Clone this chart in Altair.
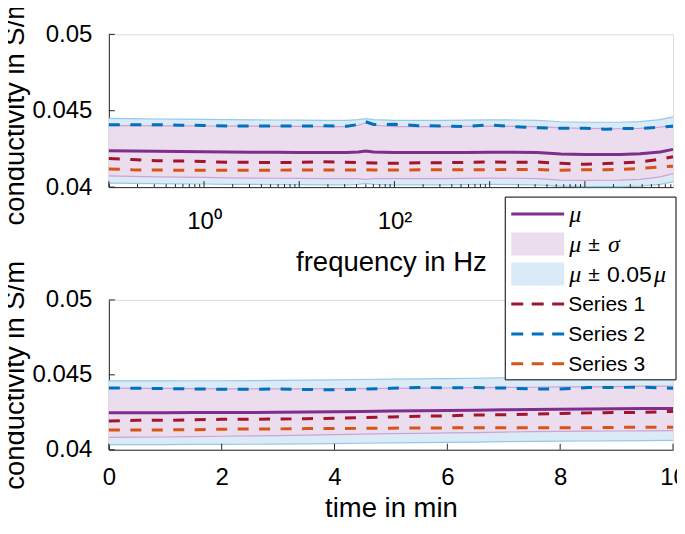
import altair as alt
import pandas as pd

# ---------------- data ----------------
FREQ = [0.1, 0.175, 0.316, 0.562, 1, 1.78, 3.16, 5.62, 10, 17.8, 31.6, 41.7, 50, 60.3,
        100, 178, 316, 562, 1000, 1780, 3160, 5620, 10000, 16600, 23400, 38000, 61700, 84300]
F_S2 = [0.04409, 0.04409, 0.04409, 0.04405, 0.04404, 0.04400, 0.04400, 0.04401, 0.04400, 0.04401,
        0.04398, 0.04410, 0.04428, 0.04410, 0.04411, 0.04402, 0.04400, 0.04396, 0.04408, 0.04395,
        0.04389, 0.04385, 0.04386, 0.04378, 0.04383, 0.04383, 0.04393, 0.04398]
F_MU = [0.04238, 0.04236, 0.04234, 0.04233, 0.04232, 0.04230, 0.04229, 0.04228, 0.04227, 0.04226,
        0.04226, 0.04230, 0.04236, 0.04230, 0.04226, 0.04226, 0.04226, 0.04227, 0.04229, 0.04228,
        0.04226, 0.04217, 0.04214, 0.04214, 0.04214, 0.04218, 0.04230, 0.04247]
F_S1 = [0.04188, 0.04180, 0.04173, 0.04171, 0.04168, 0.04162, 0.04162, 0.04161, 0.04162, 0.04166,
        0.04163, 0.04160, 0.04160, 0.04158, 0.04156, 0.04160, 0.04160, 0.04162, 0.04165, 0.04162,
        0.04164, 0.04156, 0.04149, 0.04154, 0.04158, 0.04165, 0.04182, 0.04199]
F_S3 = [0.04119, 0.04113, 0.04112, 0.04110, 0.04110, 0.04111, 0.04111, 0.04111, 0.04112, 0.04112,
        0.04112, 0.04112, 0.04113, 0.04112, 0.04112, 0.04113, 0.04114, 0.04113, 0.04114, 0.04116,
        0.04115, 0.04110, 0.04114, 0.04113, 0.04116, 0.04122, 0.04132, 0.04137]
F_SIG = [0.00165, 0.00166, 0.00167, 0.00168, 0.00168, 0.00169, 0.00170, 0.00170, 0.00170, 0.00170,
         0.00170, 0.00175, 0.00185, 0.00175, 0.00170, 0.00170, 0.00170, 0.00170, 0.00170, 0.00170,
         0.00170, 0.00171, 0.00170, 0.00169, 0.00168, 0.00167, 0.00163, 0.00159]

TIME = [0, 0.5, 1, 1.5, 2, 2.5, 3, 3.5, 4, 4.5, 5, 5.5, 6, 6.5, 7, 7.5, 8, 8.5, 9, 9.5, 10]
T_S2 = [0.04412, 0.04411, 0.04408, 0.04406, 0.04404, 0.04404, 0.04405, 0.04402, 0.04400, 0.04405,
        0.04410, 0.04415, 0.04414, 0.04415, 0.04412, 0.04406, 0.04406, 0.04415, 0.04416, 0.04417, 0.04410]
T_MU = [0.04247, 0.04247, 0.04247, 0.04248, 0.04248, 0.04249, 0.04250, 0.04252, 0.04254, 0.04256,
        0.04258, 0.04260, 0.04262, 0.04264, 0.04267, 0.04269, 0.04271, 0.04272, 0.04273, 0.04275, 0.04276]
T_S1 = [0.04192, 0.04196, 0.04196, 0.04200, 0.04203, 0.04203, 0.04205, 0.04207, 0.04210, 0.04215,
        0.04219, 0.04224, 0.04226, 0.04232, 0.04233, 0.04237, 0.04242, 0.04246, 0.04248, 0.04250, 0.04256]
T_S3 = [0.04132, 0.04132, 0.04132, 0.04134, 0.04137, 0.04138, 0.04139, 0.04141, 0.04141, 0.04143,
        0.04144, 0.04145, 0.04146, 0.04146, 0.04146, 0.04146, 0.04146, 0.04147, 0.04149, 0.04150, 0.04150]
T_SIG = [0.00164, 0.00163, 0.00162, 0.00160, 0.00158, 0.00157, 0.00156, 0.00154, 0.00153, 0.00152,
         0.00151, 0.00151, 0.00150, 0.00150, 0.00149, 0.00148, 0.00148, 0.00148, 0.00148, 0.00149, 0.00149]

Y_TICKS = [0.04, 0.045, 0.05]
F_MAJOR = [0.1, 1, 10, 100, 1000, 10000]
F_MINOR = [m * d for d in [0.1, 1, 10, 100, 1000, 10000] for m in range(2, 10) if m * d <= 84300]
F_LABELED = [1, 100]
T_TICKS = [0, 2, 4, 6, 8, 10]

SERIES_NAMES = ["Series 1", "Series 2", "Series 3"]
SERIES_COLORS = ["#A2142F", "#0072BD", "#D95319"]
MU_COLOR = "#7E2F8E"
PINK_FILL = "#EBDDED"
PINK_EDGE = "#CDA3D5"
BLUE_FILL = "#DAEAF6"
BLUE_EDGE = "#97C8EA"

MU = "\u03bc"
SIGMA = "\u03c3"
PM = "\u00b1"
# legend text pieces: (text, italic)
LEG_TEXT = [
    [(MU, True)],
    [(MU, True), (PM, False), (SIGMA, True)],
    [(MU, True), (PM, False), ("0.05", False), (MU, True)],
    [("Series 1", False)],
    [("Series 2", False)],
    [("Series 3", False)],
]

FONT = "Liberation Sans"
MATH_FONT = "Liberation Serif"
AX = "#262626"
W = 565
H_TOP = 153
H_BOT = 150
GAP = 113
DASH = [11, 10.5]


def make_df(x, mu, sig, s1, s2, s3):
    return pd.DataFrame({"x": x, "mu": mu, "sig": sig,
                         "Series 1": s1, "Series 2": s2, "Series 3": s3})


def panel(df, xscale, xaxis, major, minor, h, extra=None):
    yscale = alt.Scale(domain=[0.04, 0.05], nice=False, zero=False)
    yaxis = alt.Axis(values=Y_TICKS, labelExpr="format(datum.value, '~g')",
                     title="conductivity in S/m", tickSize=0, labelPadding=17,
                     titlePadding=2, grid=False, domainColor=AX, domainWidth=1,
                     labelFont=FONT, labelFontSize=24, labelColor="#000",
                     titleFont=FONT, titleFontSize=27.5, titleFontWeight="normal",
                     titleColor="#000", labelOverlap=False)

    def X(f):
        return alt.X(f, type="quantitative", scale=xscale, axis=xaxis)

    def Y(f):
        return alt.Y(f, type="quantitative", scale=yscale, axis=yaxis)

    base = alt.Chart(df).transform_calculate(
        lo_s="datum.mu - datum.sig", hi_s="datum.mu + datum.sig",
        lo_b="datum.mu * 0.95", hi_b="datum.mu * 1.05")

    blue_area = base.mark_area(color=BLUE_FILL, opacity=1).encode(
        x=X("x"), y=Y("lo_b"), y2="hi_b")
    blue_edges = base.transform_fold(["lo_b", "hi_b"], as_=["edge", "val"]).mark_line(
        color=BLUE_EDGE, strokeWidth=1.2).encode(x=X("x"), y=Y("val"), detail="edge:N")
    pink_area = base.mark_area(color=PINK_FILL, opacity=1).encode(
        x=X("x"), y=Y("lo_s"), y2="hi_s")
    pink_edges = base.transform_fold(["lo_s", "hi_s"], as_=["edge", "val"]).mark_line(
        color=PINK_EDGE, strokeWidth=1.2).encode(x=X("x"), y=Y("val"), detail="edge:N")
    mu_line = base.mark_line(color=MU_COLOR, strokeWidth=3).encode(x=X("x"), y=Y("mu"))
    series = base.transform_fold(SERIES_NAMES, as_=["series", "val"]).mark_line(
        strokeWidth=3, strokeDash=DASH, strokeCap="butt").encode(
        x=X("x"), y=Y("val"),
        color=alt.Color("series:N", scale=alt.Scale(domain=SERIES_NAMES, range=SERIES_COLORS),
                        legend=None))

    ytick = alt.Chart(pd.DataFrame({"v": Y_TICKS})).mark_rule(color=AX, strokeWidth=1).encode(
        y=Y("v"), x=alt.value(0), x2=alt.value(6))
    xmaj = alt.Chart(pd.DataFrame({"v": major})).mark_rule(color=AX, strokeWidth=1).encode(
        x=X("v"), y=alt.value(h), y2=alt.value(h - 6))
    layers = [blue_area, blue_edges, pink_area, pink_edges, mu_line, series, ytick, xmaj]
    if minor:
        xmin = alt.Chart(pd.DataFrame({"v": minor})).mark_rule(color=AX, strokeWidth=1).encode(
            x=X("v"), y=alt.value(h), y2=alt.value(h - 3))
        layers.append(xmin)
    if extra:
        layers.extend(extra)
    return alt.layer(*layers).properties(width=W, height=h)


# ---------------- top panel ----------------
top_df = make_df(FREQ, F_MU, F_SIG, F_S1, F_S2, F_S3)
top_xscale = alt.Scale(type="log", domain=[0.1, 84300], nice=False)
top_xaxis = alt.Axis(values=F_LABELED,
                     labelExpr="datum.value == 1 ? '10\u2070' : '10\u00b2'",
                     title="frequency in Hz", tickSize=0, labelPadding=22, titlePadding=16,
                     grid=False, domainColor=AX, domainWidth=1,
                     labelFont=FONT, labelFontSize=24, labelColor="#000",
                     titleFont=FONT, titleFontSize=27.5, titleFontWeight="normal",
                     titleColor="#000", labelOverlap=False, labelFlush=False)
top = panel(top_df, top_xscale, top_xaxis, F_MAJOR, F_MINOR, H_TOP)

# ---------------- legend (drawn in the bottom panel, over the gap) ----------------
one = pd.DataFrame({"a": [0]})
LX0, LX1 = 397, 568
LY0, LY1 = -103, 80
row_y = [-86 + 30 * i for i in range(6)]
legend = [alt.Chart(one).mark_rect(fill="white", stroke="#000", strokeWidth=1).encode(
    x=alt.value(LX0), x2=alt.value(LX1), y=alt.value(LY0), y2=alt.value(LY1))]
kinds = [("line", MU_COLOR, False), ("patch", PINK_FILL, False), ("patch", BLUE_FILL, False),
         ("line", SERIES_COLORS[0], True), ("line", SERIES_COLORS[1], True),
         ("line", SERIES_COLORS[2], True)]
# horizontal offsets of the text pieces in each legend row (layout)
piece_x = [[461], [461, 480, 500], [461, 480, 499, 546], [460], [460], [460]]
for i, (kind, col, dashed) in enumerate(kinds):
    yc = row_y[i]
    if kind == "line":
        kw = dict(color=col, strokeWidth=3, strokeCap="butt")
        if dashed:
            kw["strokeDash"] = [12, 8.5]
        legend.append(alt.Chart(one).mark_rule(**kw).encode(
            x=alt.value(403), x2=alt.value(456), y=alt.value(yc)))
    else:
        legend.append(alt.Chart(one).mark_rect(fill=col).encode(
            x=alt.value(403), x2=alt.value(456), y=alt.value(yc - 11.5), y2=alt.value(yc + 11.5)))
    for (txt, ital), px in zip(LEG_TEXT[i], piece_x[i]):
        if ital:
            mk = dict(font=MATH_FONT, fontStyle="italic", fontSize=24)
        elif txt == "0.05":
            mk = dict(font=FONT, fontSize=23)
        else:
            mk = dict(font=FONT, fontSize=21)
        legend.append(alt.Chart(one).mark_text(align="left", baseline="middle", color="#000",
                                               **mk).encode(
            x=alt.value(px), y=alt.value(yc + 1), text=alt.value(txt)))

# ---------------- bottom panel ----------------
bot_df = make_df(TIME, T_MU, T_SIG, T_S1, T_S2, T_S3)
bot_xscale = alt.Scale(domain=[0, 10], nice=False, zero=False)
bot_xaxis = alt.Axis(values=T_TICKS, format="d", title="time in min", tickSize=0,
                     labelPadding=16, titlePadding=5, grid=False, domainColor=AX, domainWidth=1,
                     labelFont=FONT, labelFontSize=24, labelColor="#000",
                     titleFont=FONT, titleFontSize=27.5, titleFontWeight="normal",
                     titleColor="#000", labelOverlap=False, labelFlush=False)
bottom = panel(bot_df, bot_xscale, bot_xaxis, T_TICKS, None, H_BOT, extra=legend)

chart = alt.vconcat(top, bottom, spacing=GAP, bounds="flush").properties(
    padding={"top": -13, "left": -7, "right": -10, "bottom": -4.5}
).configure_view(stroke=None).configure(background="white")

chart.save("out.html", embed_options={"renderer": "svg", "actions": False})
